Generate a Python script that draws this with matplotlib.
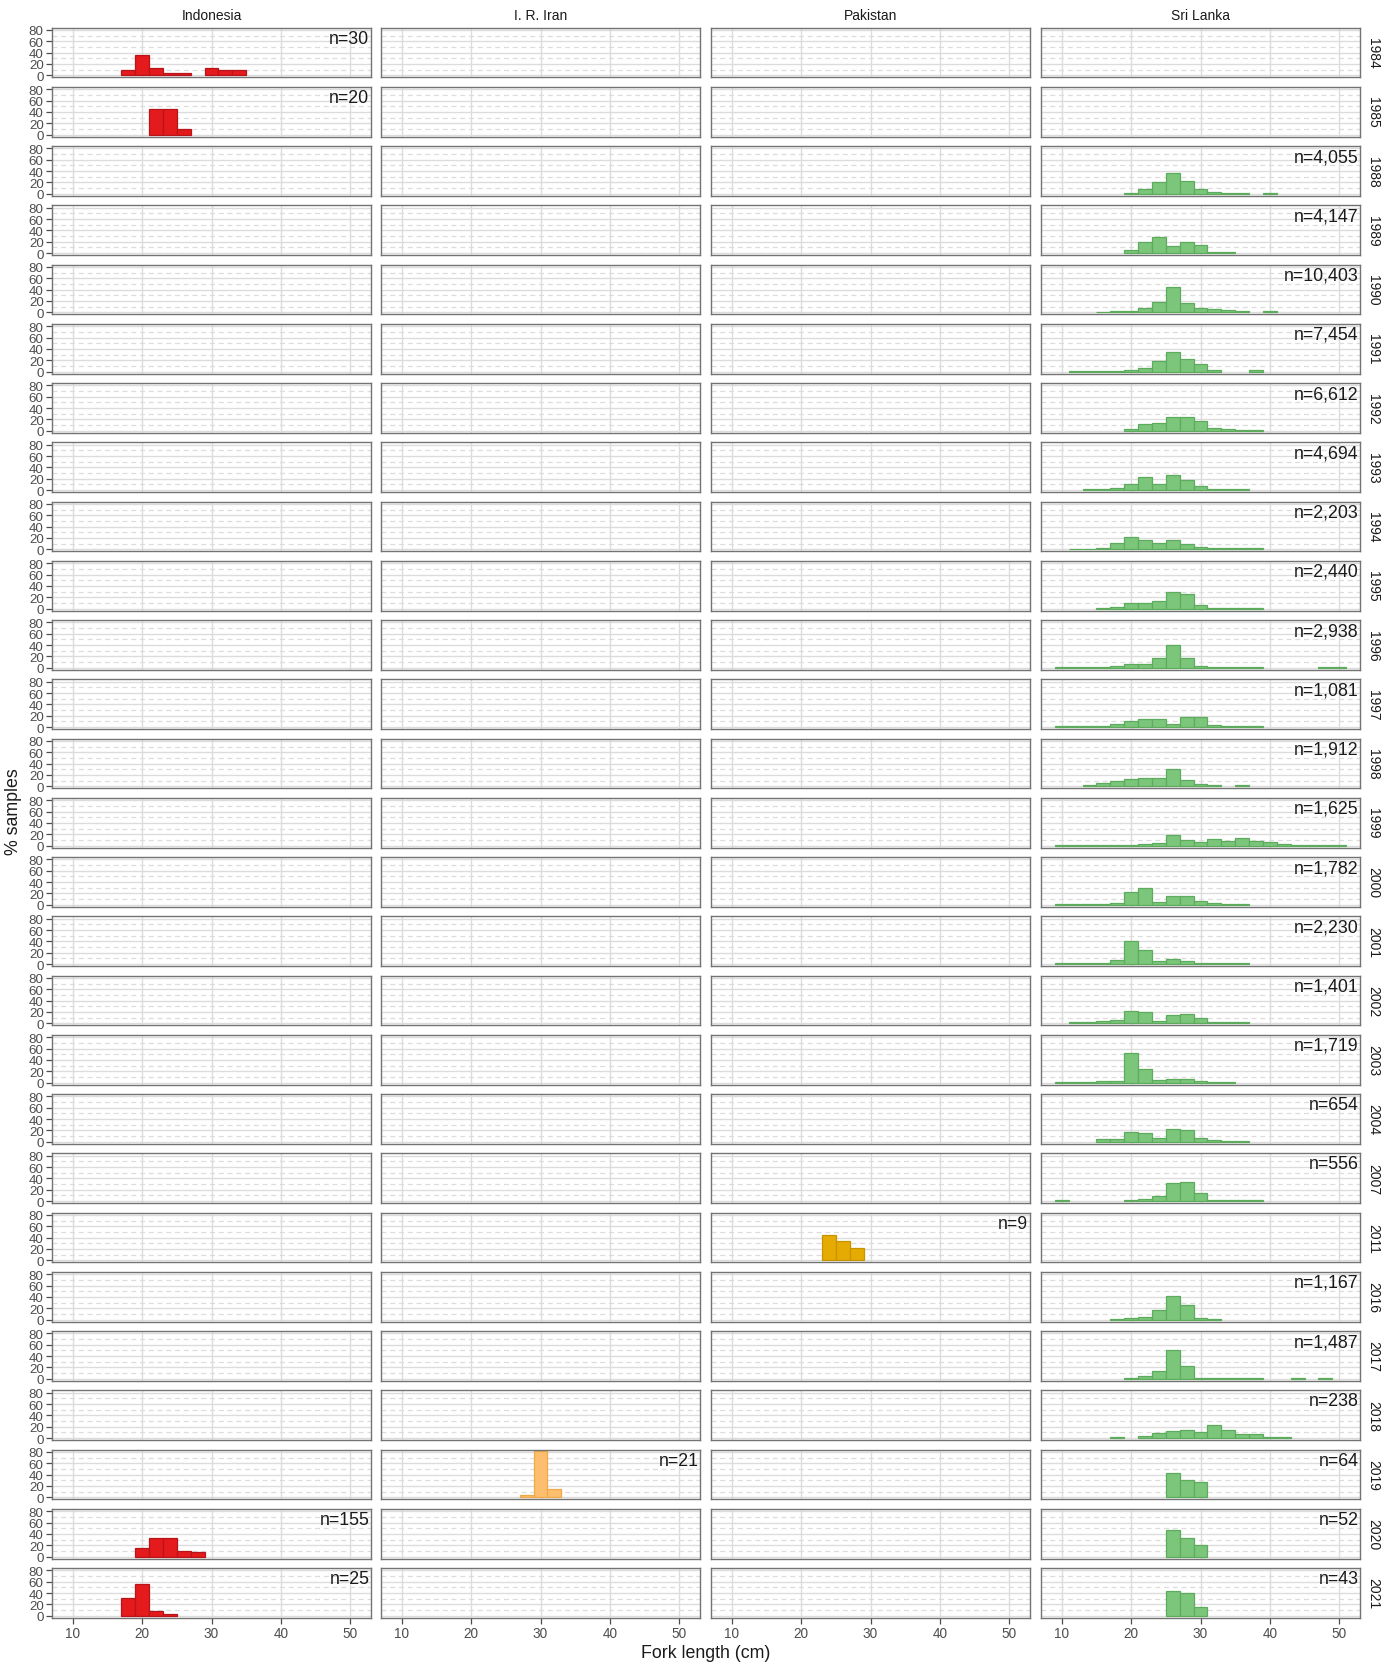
import numpy as np
import matplotlib
matplotlib.use("Agg")
import matplotlib.pyplot as plt

plt.rcParams["font.family"] = ["Liberation Sans", "DejaVu Sans"]

# facets
countries = ["Indonesia", "I. R. Iran", "Pakistan", "Sri Lanka"]
years = [1984, 1985, 1988, 1989, 1990, 1991, 1992, 1993, 1994, 1995, 1996,
         1997, 1998, 1999, 2000, 2001, 2002, 2003, 2004, 2007, 2011, 2016,
         2017, 2018, 2019, 2020, 2021]

# lower edges of the 2 cm fork-length bins (9 ... 49)
bin_starts = [9, 11, 13, 15, 17, 19, 21, 23, 25, 27, 29, 31, 33, 35, 37, 39,
              41, 43, 45, 47, 49]

# % of samples per bin, by year
indonesia = {
    1984: [0, 0, 0, 0, 10, 36.7, 13.3, 3.3, 3.3, 0, 13.3, 10, 10, 0, 0, 0, 0, 0, 0, 0, 0],
    1985: [0, 0, 0, 0, 0, 0, 45, 45, 10, 0, 0, 0, 0, 0, 0, 0, 0, 0, 0, 0, 0],
    2020: [0, 0, 0, 0, 0, 15.5, 32.9, 32.9, 10.3, 8.4, 0, 0, 0, 0, 0, 0, 0, 0, 0, 0, 0],
    2021: [0, 0, 0, 0, 32, 56, 8, 4, 0, 0, 0, 0, 0, 0, 0, 0, 0, 0, 0, 0, 0],
}
iran = {
    2019: [0, 0, 0, 0, 0, 0, 0, 0, 0, 4.8, 80.9, 14.3, 0, 0, 0, 0, 0, 0, 0, 0, 0],
}
pakistan = {
    2011: [0, 0, 0, 0, 0, 0, 0, 44.4, 33.3, 22.2, 0, 0, 0, 0, 0, 0, 0, 0, 0, 0, 0],
}
sri_lanka = {
    1988: [0, 0, 0, 0, 0, 2, 8, 20, 37, 22, 9, 4, 2, 2, 0, 1.5, 0, 0, 0, 0, 0],
    1989: [0, 0, 0, 0, 0, 6, 19, 29, 12, 20, 14, 2, 1.5, 0, 0, 0, 0, 0, 0, 0, 0],
    1990: [0, 0, 0, 1, 1.5, 2, 8, 18, 45, 17, 7, 5, 3.5, 2, 0, 2, 0, 0, 0, 0, 0],
    1991: [0, 1, 1, 1, 1, 2, 5.5, 18, 35, 23, 13, 3, 0, 0, 2, 0, 0, 0, 0, 0, 0],
    1992: [0, 0, 0, 0, 0, 3, 12, 13, 25, 24, 17, 5.5, 2.5, 2, 1.5, 0, 0, 0, 0, 0, 0],
    1993: [0, 0, 1, 1.5, 3, 10, 23, 10, 26, 17, 7, 2.5, 1.5, 1.5, 0, 0, 0, 0, 0, 0, 0],
    1994: [0, 1, 1, 2, 12, 22, 17, 12, 16, 9.5, 4, 2, 1.5, 1.5, 1.5, 0, 0, 0, 0, 0, 0],
    1995: [0, 0, 0, 1.5, 3, 10.5, 10, 12.5, 29, 26, 7, 1.5, 1, 1, 1, 0, 0, 0, 0, 0, 0],
    1996: [1.5, 1.5, 1.5, 1.5, 2.5, 6, 7, 17, 41, 18, 2.5, 1.5, 1.5, 1.5, 1.5, 0, 0, 0, 0, 1.5, 1.5],
    1997: [1.5, 1.5, 1.5, 2.5, 5, 11, 15, 14, 6, 17, 18, 3, 1.5, 1.5, 1.5, 0, 0, 0, 0, 0, 0],
    1998: [0, 0, 1.5, 5, 9, 13, 15, 14, 30, 12, 4.5, 1.5, 0, 2.5, 0, 0, 0, 0, 0, 0, 0],
    1999: [1, 1, 1, 1, 1, 1.5, 3, 5, 19, 10, 7, 11.5, 7.5, 14, 8, 5.5, 3.5, 1.5, 1, 1, 1],
    2000: [1.5, 1.5, 1.5, 2, 3, 23, 30, 4.5, 15, 15, 6.5, 2.5, 1.5, 1.5, 0, 0, 0, 0, 0, 0, 0],
    2001: [1, 1.5, 1.5, 2.5, 6.5, 41, 25, 5, 8.5, 5.5, 2.5, 1.5, 1.5, 1.5, 0, 0, 0, 0, 0, 0, 0],
    2002: [0, 1.5, 2.5, 3.5, 6.5, 22, 20, 4, 15, 16, 9, 2, 1.5, 1.5, 0, 0, 0, 0, 0, 0, 0],
    2003: [1.5, 1.5, 1.5, 2, 3, 53, 24, 4.5, 5.5, 5.5, 3.5, 1.5, 1.5, 0, 0, 0, 0, 0, 0, 0, 0],
    2004: [0, 0, 0, 5, 5, 18, 16, 6.5, 22, 20, 6, 3, 1.5, 1.5, 0, 0, 0, 0, 0, 0, 0],
    2007: [1.5, 0, 0, 0, 0, 1.5, 3.5, 9, 31, 34, 14, 2, 1.5, 1.5, 1, 0, 0, 0, 0, 0, 0],
    2016: [0, 0, 0, 0, 1.5, 3, 5, 17, 42, 26, 3, 1.5, 0, 0, 0, 0, 0, 0, 0, 0, 0],
    2017: [0, 0, 0, 0, 0, 1.5, 4.5, 13.5, 50, 22, 1.5, 1.5, 1.5, 1.5, 1.5, 0, 0, 1.5, 0, 1.5, 0],
    2018: [0, 0, 0, 0, 2, 0, 3, 8.5, 13, 15, 11, 23, 13.5, 8, 7.3, 2, 2, 0, 0, 0, 0],
    2019: [0, 0, 0, 0, 0, 0, 0, 0, 43.75, 29.7, 26.6, 0, 0, 0, 0, 0, 0, 0, 0, 0, 0],
    2020: [0, 0, 0, 0, 0, 0, 0, 0, 46.2, 32.7, 21.2, 0, 0, 0, 0, 0, 0, 0, 0, 0, 0],
    2021: [0, 0, 0, 0, 0, 0, 0, 0, 44.2, 39.5, 16.3, 0, 0, 0, 0, 0, 0, 0, 0, 0, 0],
}

# number of fish measured
n_indonesia = {1984: 30, 1985: 20, 2020: 155, 2021: 25}
n_iran = {2019: 21}
n_pakistan = {2011: 9}
n_sri_lanka = {1988: 4055, 1989: 4147, 1990: 10403, 1991: 7454, 1992: 6612,
               1993: 4694, 1994: 2203, 1995: 2440, 1996: 2938, 1997: 1081,
               1998: 1912, 1999: 1625, 2000: 1782, 2001: 2230, 2002: 1401,
               2003: 1719, 2004: 654, 2007: 556, 2016: 1167, 2017: 1487,
               2018: 238, 2019: 64, 2020: 52, 2021: 43}

pct_by_country = [indonesia, iran, pakistan, sri_lanka]
n_by_country = [n_indonesia, n_iran, n_pakistan, n_sri_lanka]
fills = ["#e41a1c", "#fdbf6f", "#e6ab02", "#7bc67b"]
edges = ["#b8151a", "#f0a848", "#c79400", "#5dac5d"]

W, H = 1397, 1665
fig = plt.figure(figsize=(W / 100, H / 100), dpi=100)

col_left = [52, 381, 711, 1041]
panel_w = 319
top0 = 28.7
pitch = 59.25
panel_h = 49.6

tick_col = "#4d4d4d"
grid_col = "#dcdcdc"

for r, year in enumerate(years):
    top = top0 + r * pitch
    for c, country in enumerate(countries):
        ax = fig.add_axes([col_left[c] / W, 1 - (top + panel_h) / H,
                           panel_w / W, panel_h / H])
        ax.set_xlim(7, 53)
        ax.set_ylim(-3.5, 84)
        ax.set_xticks([10, 20, 30, 40, 50])
        ax.set_yticks([0, 20, 40, 60, 80])
        ax.set_yticks([10, 30, 50, 70], minor=True)
        ax.grid(True, which="major", color=grid_col, lw=1.0, zorder=0)
        ax.grid(True, which="minor", axis="y", color=grid_col, lw=0.9,
                ls=(0, (4, 3)), zorder=0)
        ax.set_axisbelow(True)
        for sp in ax.spines.values():
            sp.set_color("#737373")
            sp.set_linewidth(1.0)
        ax.tick_params(which="minor", length=0)
        ax.tick_params(which="major", length=4, width=0.9, color=tick_col,
                       labelcolor=tick_col, labelsize=9.6, pad=2)
        if c != 0:
            ax.tick_params(axis="y", length=0, labelleft=False)
        if r != len(years) - 1:
            ax.tick_params(axis="x", length=0, labelbottom=False)
        else:
            ax.tick_params(axis="x", labelsize=9.8)

        pct = pct_by_country[c].get(year)
        if pct is not None:
            xs = [b for b, v in zip(bin_starts, pct) if v > 0]
            hs = [v for v in pct if v > 0]
            ax.bar(xs, hs, width=2, align="edge", color=fills[c],
                   edgecolor=edges[c], linewidth=0.9, zorder=2)
            n = n_by_country[c][year]
            ax.text(0.995, 0.96, f"n={n:,}", transform=ax.transAxes,
                    ha="right", va="top", fontsize=12.8, color="#1a1a1a")

        if r == 0:
            ax.text(0.5, 1 + 13 / panel_h, country, transform=ax.transAxes,
                    ha="center", va="center", fontsize=10, color="#1a1a1a")
        if c == len(countries) - 1:
            ax.text(1 + 13 / panel_w, 0.5, str(year), transform=ax.transAxes,
                    ha="center", va="center", rotation=270, fontsize=10,
                    color="#1a1a1a")

fig.text(706 / W, 1 - 1654 / H, "Fork length (cm)", ha="center", va="center",
         fontsize=12.8, color="#1a1a1a")
fig.text(13 / W, 1 - 812 / H, "% samples", ha="center", va="center",
         rotation=90, fontsize=12.8, color="#1a1a1a")

fig.savefig("out.png", dpi=100)
